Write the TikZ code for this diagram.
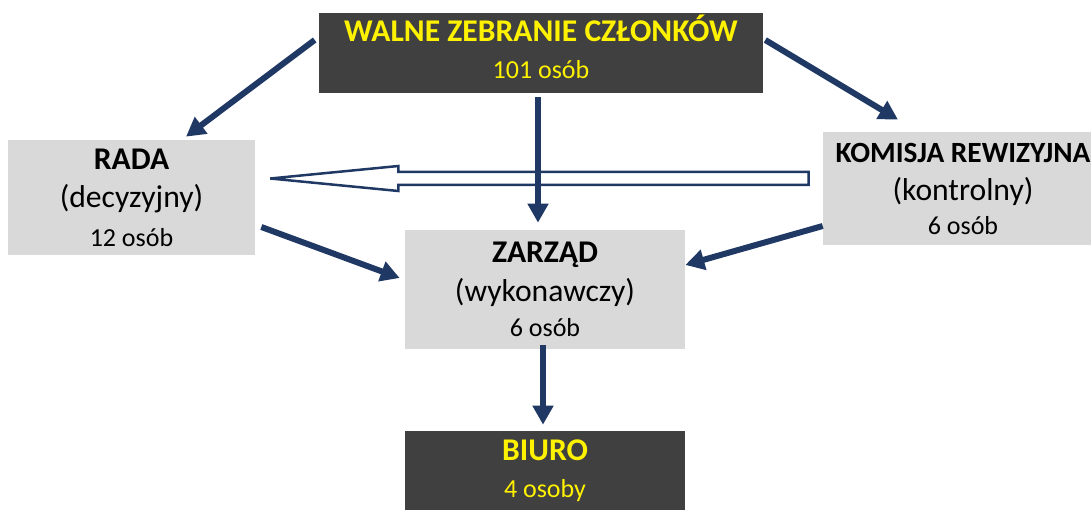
\documentclass[tikz,border=0pt]{standalone}
\usepackage{fontspec}
\setmainfont{Carlito}
\usetikzlibrary{positioning, arrows.meta, calc}

\definecolor{granat}{RGB}{31,56,100}
\definecolor{grafit}{RGB}{64,64,64}
\definecolor{jasnoszary}{RGB}{217,217,217}

\newcommand{\tytul}{\fontsize{18}{22}\selectfont\bfseries}
\newcommand{\rola}{\fontsize{18}{22}\selectfont\mdseries}
\newcommand{\liczba}{\fontsize{14.8}{22}\selectfont\mdseries}

\begin{document}
\begin{tikzpicture}[
        x=0.02cm, y=-0.02cm,
        every node/.style={align=center, inner sep=0pt, font=\fontsize{18}{22}\selectfont},
        ciemny/.style={fill=grafit, text=yellow, minimum width=5.6cm, minimum height=1.58cm},
        jasny/.style={fill=jasnoszary, text=black},
        link/.style={-{Triangle[length=0.38cm, width=0.4cm]}, line width=0.12cm, granat},
        pusta/.style={draw=granat, fill=white, line width=0.05cm, line join=miter}
    ]
    \useasboundingbox (0,0) rectangle (1091,513);

    % Level 0: general meeting
    \node[ciemny, minimum width=8.88cm, minimum height=1.6cm, text depth=0.26cm] (walne) at (541,53)
        {\tytul WALNE ZEBRANIE CZŁONKÓW\\[-1pt] \liczba 101 osób};

    % Level 1: council and audit committee
    \node[jasny, minimum width=4.94cm, minimum height=2.3cm] (rada) at (131.5,197.5)
        {\tytul RADA\\ \rola (decyzyjny)\\ \liczba 12 osób};
    \node[jasny, minimum width=5.6cm, minimum height=2.26cm] (komisja) at (963,188.5)
        {\fontsize{16.7}{22}\selectfont\bfseries KOMISJA REWIZYJNA\\ \rola (kontrolny)\\[-3pt] \liczba 6 osób};

    % Level 2: board
    \node[jasny, minimum width=5.6cm, minimum height=2.38cm] (zarzad) at (545,289.5)
        {\tytul ZARZĄD\\ \rola (wykonawczy)\\[-2pt] \liczba 6 osób};

    % Level 3: office
    \node[ciemny] (biuro) at (545,470.5)
        {\tytul BIURO\\[-1pt] \liczba 4 osoby};

    % Hollow arrow: komisja -> rada
    \coordinate (grot) at ([shift={(15,-19)}]rada.east);
    \coordinate (ogon) at ([shift={(-14,-10)}]komisja.west);
    \draw[pusta] (grot) -- ($(grot)+(128,-12.5)$) -- ($(grot)+(128,-6.5)$)
        -- ($(ogon)+(0,-6.5)$) -- ($(ogon)+(0,6.5)$)
        -- ($(grot)+(128,6.5)$) -- ($(grot)+(128,12.5)$) -- cycle;

    % Links
    \draw[link] ([shift={(-4,-13)}]walne.west) -- ([shift={(54.5,-3)}]rada.north);
    \draw[link] ([shift={(2,-13)}]walne.east) -- ([shift={(-65,-12)}]komisja.north);
    \draw[link] ([shift={(-3,4)}]walne.south) -- ([shift={(-7,-7)}]zarzad.north);
    \draw[link] ([shift={(6,29.5)}]rada.east) -- ([shift={(-5,-11.5)}]zarzad.west);
    \draw[link] ([shift={(0,37.5)}]komisja.west) -- ([shift={(0,-24.5)}]zarzad.east);
    \draw[link] ([shift={(-2,-4)}]zarzad.south) -- ([shift={(-2,-6)}]biuro.north);

\end{tikzpicture}
\end{document}
